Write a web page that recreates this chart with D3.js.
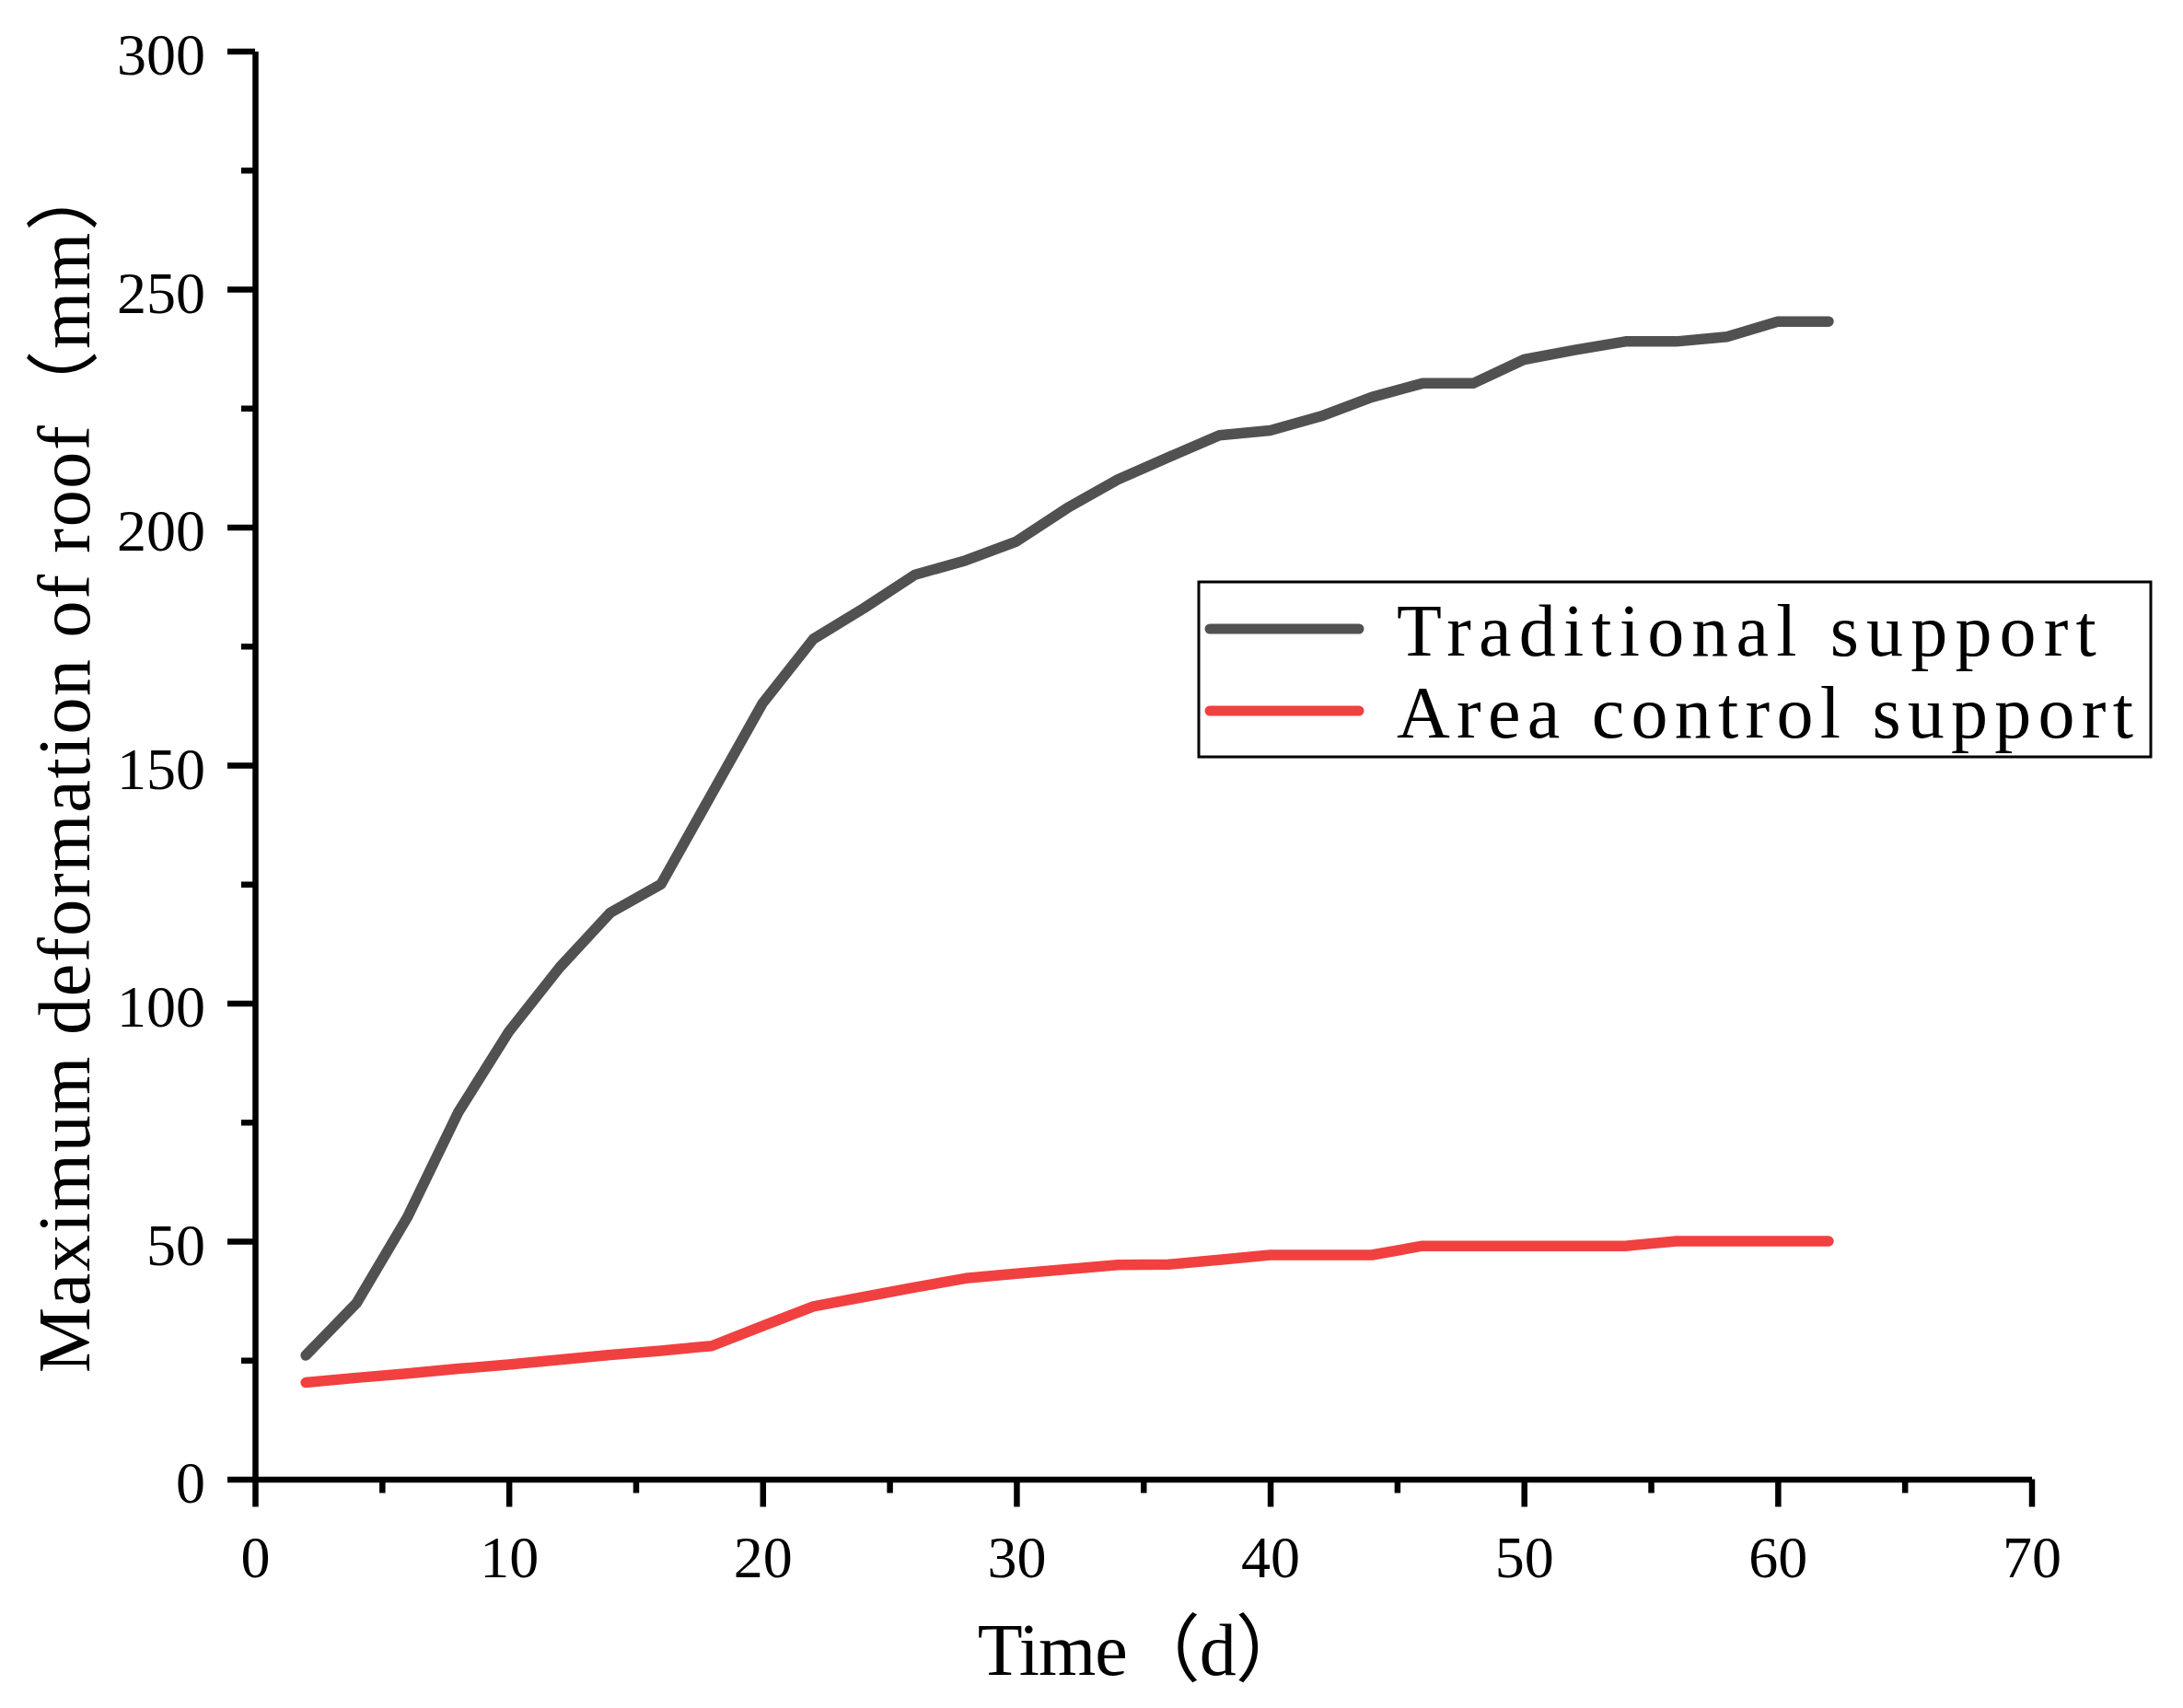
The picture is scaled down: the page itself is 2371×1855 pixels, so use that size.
<!DOCTYPE html>
<html>
<head>
<meta charset="utf-8">
<script src="https://cdn.jsdelivr.net/npm/d3@7"></script>
<style>
  body { margin: 0; background: #fff; }
  svg { display: block; }
</style>
</head>
<body>
<svg id="chart"></svg>
<script>
// time (d) and roof deformation (mm)
var days = [2, 4, 6, 8, 10, 12, 14, 16, 18, 20, 22, 24, 26, 28, 30, 32,
            34, 36, 38, 40, 42, 44, 46, 48, 50, 52, 54, 56, 58, 60, 62];
var traditional = [26, 37, 55, 77, 94, 107.5, 119, 125, 144, 163, 176.5, 183, 190, 193, 197, 204,
                   210, 214.7, 219.3, 220.3, 223.3, 227.3, 230.2, 230.2, 235.2, 237.2, 239, 239, 240, 243.2, 243.2];
var areaControl = [20.3, 21.3, 22.2, 23.2, 24.1, 25.1, 26.1, 27, 28, 32.2, 36.3, 38.3, 40.3, 42.2, 43.2, 44.1,
                   45, 45.1, 46.1, 47.1, 47.1, 47.1, 49, 49, 49, 49, 49, 50, 50, 50, 50];

var xTicks = [0, 10, 20, 30, 40, 50, 60, 70];
var xMinor = [5, 15, 25, 35, 45, 55, 65];
var yTicks = [0, 50, 100, 150, 200, 250, 300];
var yMinor = [25, 75, 125, 175, 225, 275];

var seriesNames = ["Traditional support", "Area control support"];
var seriesColors = ["#515151", "#F14040"];
var xTitle = "Time\uff08d\uff09";
var yTitle = "Maximum deformation of roof\uff08mm\uff09";

var width = 2371;
var height = 1855;
var font = "'Liberation Serif', 'Noto Sans CJK SC', serif";

var svg = d3.select("#chart")
    .attr("width", width)
    .attr("height", height);

svg.append("rect")
    .attr("width", width)
    .attr("height", height)
    .attr("fill", "#fff");

var x = d3.scaleLinear().domain([0, 70]).range([277, 2206.5]);
var y = d3.scaleLinear().domain([0, 300]).range([1606.5, 55.5]);

// minor ticks first, no labels
svg.append("g")
    .attr("transform", "translate(0," + y(0) + ")")
    .call(d3.axisBottom(x).tickValues(xMinor).tickSize(15).tickFormat(""))
    .call(function(g) { g.select(".domain").remove(); })
    .selectAll("line").attr("stroke", "#000").attr("stroke-width", 6.5);

svg.append("g")
    .attr("transform", "translate(" + x(0) + ",0)")
    .call(d3.axisLeft(y).tickValues(yMinor).tickSize(15).tickFormat(""))
    .call(function(g) { g.select(".domain").remove(); })
    .selectAll("line").attr("stroke", "#000").attr("stroke-width", 6.5);

var gx = svg.append("g")
    .attr("class", "axis axis--x")
    .attr("transform", "translate(0," + y(0) + ")")
    .call(d3.axisBottom(x).tickValues(xTicks).tickSize(30).tickSizeOuter(0).tickFormat(d3.format("d")));

var gy = svg.append("g")
    .attr("class", "axis axis--y")
    .attr("transform", "translate(" + x(0) + ",0)")
    .call(d3.axisLeft(y).tickValues(yTicks).tickSize(30).tickSizeOuter(0).tickFormat(d3.format("d")));

[gx, gy].forEach(function(g) {
    g.attr("font-family", font).attr("font-size", 64);
    g.select(".domain").attr("stroke", "#000").attr("stroke-width", 6.5);
    g.selectAll(".tick line").attr("stroke", "#000").attr("stroke-width", 6.5);
    g.selectAll(".tick text").attr("fill", "#000");
});

gx.selectAll(".tick text")
    .attr("y", 106.5)
    .attr("dy", null);

gy.selectAll(".tick text")
    .attr("x", -54)
    .attr("y", 25)
    .attr("dy", null);

// data lines
var line = d3.line()
    .x(function(d) { return x(d[0]); })
    .y(function(d) { return y(d[1]); });

var series = [d3.zip(days, traditional), d3.zip(days, areaControl)];

svg.selectAll(".series")
    .data(series)
    .enter().append("path")
    .attr("class", "series")
    .attr("d", line)
    .attr("fill", "none")
    .attr("stroke", function(d, i) { return seriesColors[i]; })
    .attr("stroke-width", 11.5)
    .attr("stroke-linejoin", "round")
    .attr("stroke-linecap", "round");

// axis titles
svg.append("text")
    .attr("x", (x(0) + x(70)) / 2)
    .attr("y", 1819)
    .attr("text-anchor", "middle")
    .attr("font-family", font)
    .attr("font-size", 80)
    .attr("textLength", 360)
    .attr("lengthAdjust", "spacing")
    .text(xTitle);

svg.append("text")
    .attr("transform", "translate(97," + (y(0) + y(300)) / 2 + ") rotate(-90)")
    .attr("text-anchor", "middle")
    .attr("font-family", font)
    .attr("font-size", 80)
    .attr("textLength", 1320)
    .attr("lengthAdjust", "spacing")
    .text(yTitle);

// legend
var legend = svg.append("g").attr("class", "legend");

legend.append("rect")
    .attr("x", 1302)
    .attr("y", 632)
    .attr("width", 1034)
    .attr("height", 190)
    .attr("fill", "#fff")
    .attr("stroke", "#000")
    .attr("stroke-width", 3);

var rows = legend.selectAll(".row")
    .data(seriesNames)
    .enter().append("g")
    .attr("class", "row")
    .attr("transform", function(d, i) { return "translate(0," + (683 + i * 89) + ")"; });

rows.append("line")
    .attr("x1", 1314)
    .attr("x2", 1476)
    .attr("stroke", function(d, i) { return seriesColors[i]; })
    .attr("stroke-width", 11)
    .attr("stroke-linecap", "round");

rows.append("text")
    .attr("x", 1517)
    .attr("y", 29)
    .attr("font-family", font)
    .attr("font-size", 80)
    .attr("textLength", function(d) { return d.length * 40.2 - 4; })
    .attr("lengthAdjust", "spacing")
    .text(function(d) { return d; });
</script>
</body>
</html>
